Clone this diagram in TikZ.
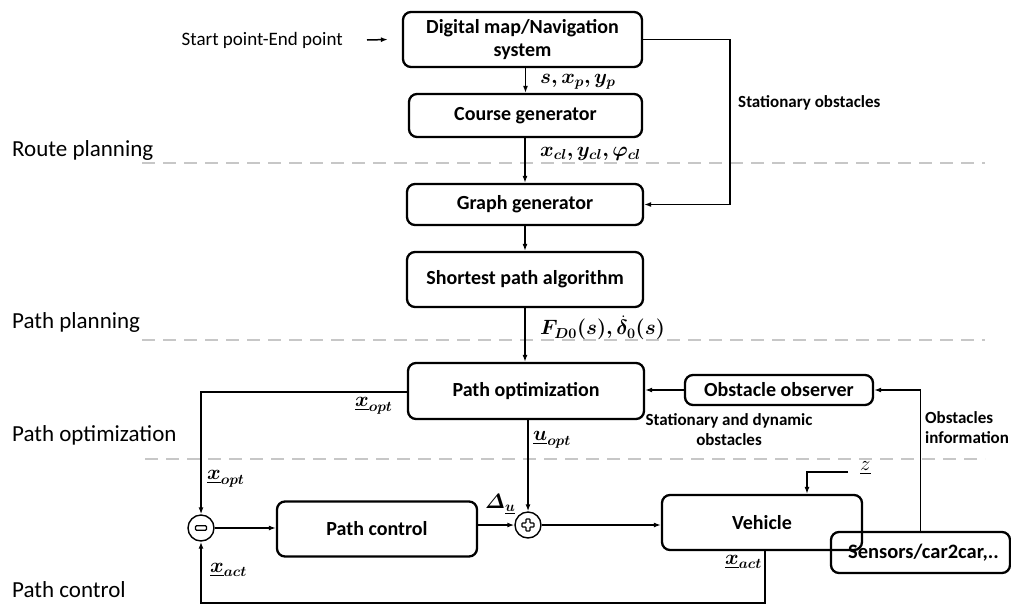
\documentclass[tikz,border=0pt]{standalone}
\usepackage{amsmath,amssymb,bm}
\usepackage{fontspec}
\setmainfont{Carlito}
\usetikzlibrary{arrows.meta,calc}

\begin{document}
\begin{tikzpicture}[x=1pt,y=-1pt,
  box/.style={draw, rounded corners=8pt, line width=2.3pt, align=center, inner sep=0pt,
    font=\bfseries\fontsize{20}{23}\selectfont},
  conn/.style={line width=1.5pt, -{Latex[length=7pt,width=5pt]}},
  sep/.style={draw=black!22, line width=2pt, dash pattern=on 13pt off 8pt},
  layer/.style={anchor=west, inner sep=0pt, font=\fontsize{23}{26}\selectfont},
  note/.style={inner sep=0pt, font=\bfseries\fontsize{17}{20}\selectfont},
  sig/.style={anchor=west, inner sep=0pt, font=\fontsize{19.5}{22}\selectfont},
  junction/.style={draw, circle, line width=1.4pt, minimum size=26pt, inner sep=0pt}]
\useasboundingbox (0,0) rectangle (1011,611);

% layer separators
\draw[sep] (142,163) -- (985,163);
\draw[sep] (142,340) -- (985,340);
\draw[sep] (145,459) -- (985,459);

% layer names
\node[layer] (lroute) at (12,150) {Route planning};
\node[layer] (lpath)  at (12,322) {Path planning};
\node[layer] (lopt)   at (12,435) {Path optimization};
\node[layer] (lctrl)  at (12,590) {Path control};

% blocks
\node[box, minimum width=239pt, minimum height=55pt] (dm) at (522.5,39.5) {Digital map/Navigation\\system};
\node[box, minimum width=233pt, minimum height=43pt] (cg) at (525.5,115.5) {Course generator};
\node[box, minimum width=236pt, minimum height=41pt] (gg) at (525,204.5) {Graph generator};
\node[box, minimum width=236pt, minimum height=55pt] (sp) at (525,279.5) {Shortest path algorithm};
\node[box, minimum width=236pt, minimum height=56pt] (po) at (526,391) {Path optimization};
\node[box, minimum width=188pt, minimum height=30pt] (obs) at (779,390) {Obstacle observer};
\node[box, minimum width=200pt, minimum height=55pt] (pc) at (377,529) {Path control};
\node[box, minimum width=200pt, minimum height=55pt] (veh) at (762,522.5) {Vehicle};
\node[box, minimum width=179pt, minimum height=41pt, font=\bfseries\fontsize{20.5}{23}\selectfont] (sens) at (920.5,552.5) {\hspace*{6pt}Sensors/car2car,..};

% summing junctions
\node[junction] (minus) at (201,528) {};
\node[junction] (plus) at (528,525) {};
\draw[line width=1.2pt, rounded corners=1pt] ($(minus)+(-5.5,-2.2)$) rectangle ($(minus)+(5.5,2.2)$);
\draw[line width=1.1pt, rounded corners=0.6pt]
  ($(plus)+(-2,-6)$) -- ($(plus)+(2,-6)$) -- ($(plus)+(2,-2)$) -- ($(plus)+(6,-2)$) --
  ($(plus)+(6,2)$) -- ($(plus)+(2,2)$) -- ($(plus)+(2,6)$) -- ($(plus)+(-2,6)$) --
  ($(plus)+(-2,2)$) -- ($(plus)+(-6,2)$) -- ($(plus)+(-6,-2)$) -- ($(plus)+(-2,-2)$) -- cycle;

% input of the navigation system
\node[anchor=east, inner sep=0pt, font=\fontsize{19}{22}\selectfont] (start) at (343,40) {Start point-End point};
\draw[conn] ([xshift=24pt]start.east) -- ([xshift=-14pt]dm.west);

% planning chain
\draw[conn] (cg.north |- dm.south) -- (cg.north);
\draw[conn] (gg.north |- cg.south) -- (gg.north);
\draw[conn] (sp.north |- gg.south) -- (sp.north);
\draw[conn] (sp.south) -- (sp.south |- po.north);

% stationary obstacles bypass
\coordinate (stx) at (730,0);
\draw[conn] (dm.east) -- (stx |- dm.east) |- (gg.east);
\node[note, anchor=west] (stat) at (738,103) {Stationary obstacles};

% obstacle information path
\draw[conn] (sens.north) |- (obs.east);
\draw[conn] (obs.west) -- (obs.west -| po.east);
\node[note, align=center] (dyn) at (729,430) {Stationary and dynamic\\obstacles};
\node[note, align=left, anchor=west] (info) at (925,428) {Obstacles\\ information};

% control loop
\coordinate (xl) at (201,392);
\draw[conn] (po.west |- xl) -- (xl) -- (minus.north);
\draw[conn] (minus.east) -- (minus -| pc.west);
\draw[conn] (pc.east |- plus) -- (plus.west);
\draw[conn] (po.south -| plus) -- (plus.north);
\draw[conn] (plus.east) -- (plus -| veh.west);
\coordinate (fb) at (765,603);
\draw[conn, line width=2pt] (veh.south -| fb) -- (fb) -- (fb -| minus) -- (minus.south);

% disturbance input
\coordinate (zin) at (848,472);
\coordinate (zx) at (807,472);
\draw[conn] (zin) -- (zx) -- (zx |- veh.north);
\node[sig] (zlab) at (860,468) {$\underline{z}$};

% signal labels
\node[sig] (sxy) at (540,82) {$\boldsymbol{s, x_p, y_p}$};
\node[sig] (cl) at (540,154) {$\boldsymbol{x_{cl}, y_{cl}, \varphi_{cl}}$};
\node[sig] (fd) at (540,328) {$\boldsymbol{F_{D0}(s), \dot{\delta}_0(s)}$};
\node[sig] (xo1) at (355,406) {$\underline{\boldsymbol{x}}_{\boldsymbol{opt}}$};
\node[sig] (uo) at (533,440) {$\underline{\boldsymbol{u}}_{\boldsymbol{opt}}$};
\node[sig] (xo2) at (207,479) {$\underline{\boldsymbol{x}}_{\boldsymbol{opt}}$};
\node[sig] (du) at (485,504) {$\boldsymbol{\varDelta}_{\underline{\boldsymbol{u}}}$};
\node[sig] (xa1) at (210,570) {$\underline{\boldsymbol{x}}_{\boldsymbol{act}}$};
\node[sig] (xa2) at (725,562) {$\underline{\boldsymbol{x}}_{\boldsymbol{act}}$};
\end{tikzpicture}
\end{document}
